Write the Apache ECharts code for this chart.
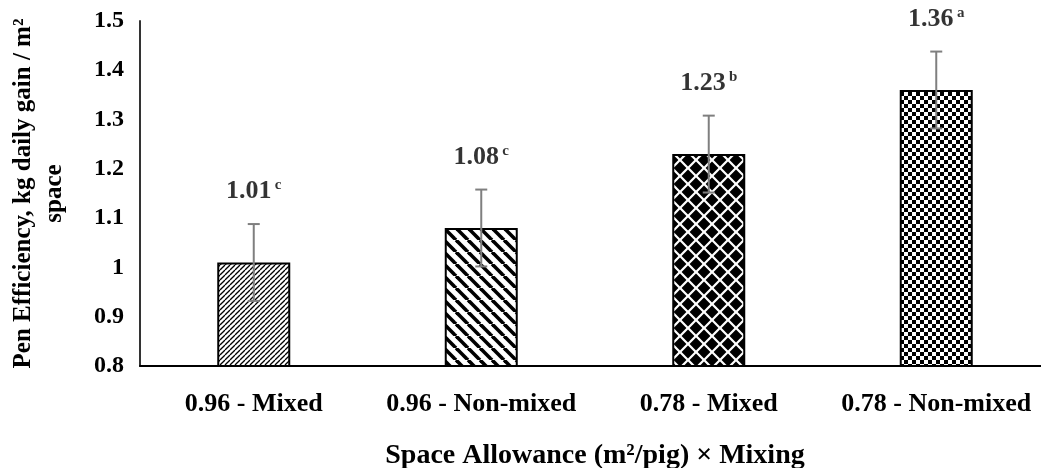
<!DOCTYPE html>
<html><head><meta charset="utf-8">
<script src="https://cdn.jsdelivr.net/npm/echarts@6/dist/echarts.min.js"></script>
<style>html,body{margin:0;padding:0;background:#fff}#c{width:1041px;height:468px}</style>
</head><body><div id="c"></div>
<script>
var categories = ['0.96 - Mixed', '0.96 - Non-mixed', '0.78 - Mixed', '0.78 - Non-mixed'];
var values = [1.01, 1.08, 1.23, 1.36];
var errors = [0.078, 0.078, 0.078, 0.078];
var letters = ['c', 'c', 'b', 'a'];
var yTicks = {min: 0.8, max: 1.5, interval: 0.1};

function mk(w, h, draw) {
  var c = document.createElement('canvas'); c.width = w; c.height = h;
  var g = c.getContext('2d'); g.fillStyle = '#fff'; g.fillRect(0, 0, w, h);
  draw(g, w, h); return c;
}
var pat1 = mk(5, 5, function (g) {
  g.strokeStyle = '#000'; g.lineWidth = 1.3;
  for (var k = -1; k <= 1; k++) { g.beginPath(); g.moveTo(k * 5, 5); g.lineTo(k * 5 + 5, 0); g.stroke(); }
});
var pat2 = mk(12, 12, function (g) {
  g.strokeStyle = '#000'; g.lineWidth = 3.6;
  for (var k = -1; k <= 1; k++) { g.beginPath(); g.moveTo(k * 12, 0); g.lineTo(k * 12 + 12, 12); g.stroke(); }
});
var pat3 = mk(16, 16, function (g) {
  g.fillStyle = '#000';
  function d(cx, cy, r) { g.beginPath(); g.moveTo(cx, cy - r); g.lineTo(cx + r, cy); g.lineTo(cx, cy + r); g.lineTo(cx - r, cy); g.closePath(); g.fill(); }
  d(8, 8, 6.4); d(0, 0, 6.4); d(16, 0, 6.4); d(0, 16, 6.4); d(16, 16, 6.4);
});
var pat4 = mk(8, 8, function (g) {
  g.fillStyle = '#000'; g.fillRect(0, 0, 4, 4); g.fillRect(4, 4, 4, 4);
});
var pats = [pat1, pat2, pat3, pat4];

var chart = echarts.init(document.getElementById('c'));
var font = '"Liberation Serif", "Times New Roman", serif';
chart.setOption({
  animation: false,
  grid: {left: 140, right: -9, top: 21, bottom: 102, containLabel: false, outerBoundsMode: 'none'},
  xAxis: {
    type: 'category', data: categories,
    axisLine: {lineStyle: {color: '#000', width: 2}},
    axisTick: {show: false},
    axisLabel: {color: '#000', fontFamily: font, fontWeight: 'bold', fontSize: 26, margin: 25, interval: 0},
    name: 'Space Allowance (m²/pig) × Mixing', nameLocation: 'middle', nameGap: 76,
    nameTextStyle: {color: '#000', fontFamily: font, fontWeight: 'bold', fontSize: 28}
  },
  yAxis: {
    type: 'value', min: yTicks.min, max: yTicks.max, interval: yTicks.interval,
    splitLine: {show: false},
    axisLine: {show: true, lineStyle: {color: '#333', width: 2}},
    axisTick: {show: false},
    axisLabel: {color: '#000', fontFamily: font, fontWeight: 'bold', fontSize: 24, margin: 16,
      formatter: function (v) { return String(Math.round(v * 10) / 10); }},
    name: 'Pen Efficiency, kg daily gain / m²\nspace', nameLocation: 'middle', nameGap: 70,
    nameTextStyle: {color: '#000', fontFamily: font, fontWeight: 'bold', fontSize: 25, lineHeight: 31}
  },
  series: [{
    type: 'bar', barWidth: 73,
    data: values.map(function (v, i) {
      return {value: v, itemStyle: {color: {image: pats[i], repeat: 'repeat'}, borderColor: '#000', borderWidth: 2}};
    })
  }, {
    type: 'custom',
    data: values.map(function (v, i) { return [i, v, errors[i]]; }),
    renderItem: function (params, api) {
      var x = api.value(0), v = api.value(1), e = api.value(2);
      var p1 = api.coord([x, v + e]), p2 = api.coord([x, v - e]);
      var cw = 6, st = {stroke: '#7f7f7f', lineWidth: 2};
      return {type: 'group', children: [
        {type: 'line', shape: {x1: p1[0], y1: p1[1], x2: p2[0], y2: p2[1]}, style: st},
        {type: 'line', shape: {x1: p1[0] - cw, y1: p1[1], x2: p1[0] + cw, y2: p1[1]}, style: st},
        {type: 'line', shape: {x1: p2[0] - cw, y1: p2[1], x2: p2[0] + cw, y2: p2[1]}, style: st}
      ]};
    },
    z: 5
  }, {
    type: 'scatter', symbolSize: 0,
    data: values.map(function (v, i) { return [i, v + errors[i]]; }),
    label: {
      show: true, position: 'top', distance: 19,
      formatter: function (p) { return '{v|' + values[p.dataIndex].toFixed(2) + '} {s|' + letters[p.dataIndex] + '}'; },
      rich: {
        v: {fontFamily: font, fontWeight: 'bold', fontSize: 26, color: '#000'},
        s: {fontFamily: font, fontWeight: 'bold', fontSize: 15, color: '#000', padding: [0, 0, 12, 0]}
      }
    }
  }]
});
</script></body></html>
